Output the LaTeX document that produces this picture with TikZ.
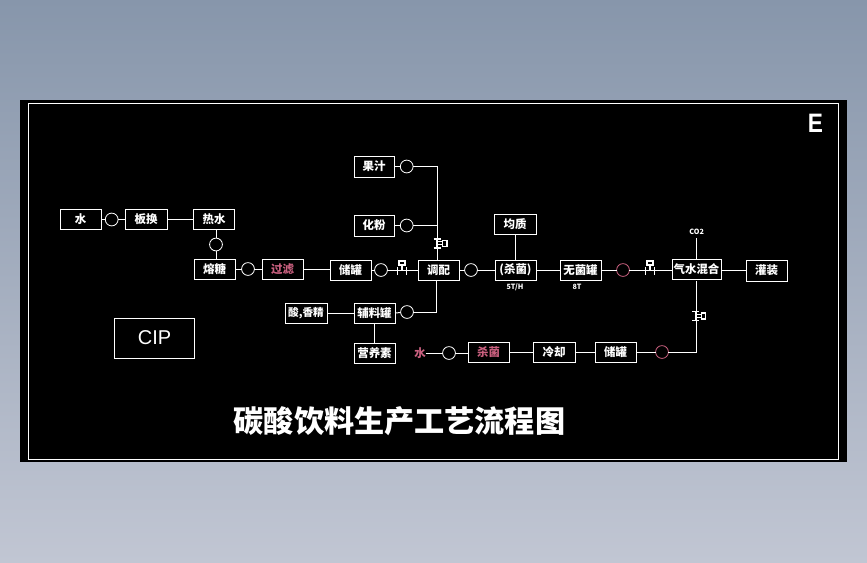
\documentclass[tikz,border=0pt]{standalone}
\usepackage{fontspec}
\setmainfont{Noto Sans CJK SC}
\newfontfamily\latinsans{Liberation Sans}
\usetikzlibrary{calc}
\definecolor{rosea}{HTML}{C9607F}
\definecolor{bgtop}{RGB}{135,150,171}
\definecolor{bgbot}{RGB}{193,198,211}
\tikzset{
  x=0.75pt,y=-0.75pt,
  lnk/.style={draw=white,line width=0.75pt},
  pbox/.style={draw=white,line width=0.75pt,fill=black,text=white,inner sep=0pt,outer sep=0pt,
    minimum width=30.75pt,minimum height=15pt,font=\fontsize{8.6pt}{10pt}\selectfont\bfseries},
  pinkbox/.style={pbox,text=rosea},
  pump/.style={circle,draw=white,line width=0.6pt,fill=black,minimum size=9.6pt,inner sep=0pt,outer sep=0pt},
  pumpr/.style={pump,draw=rosea},
  note/.style={text=white,inner sep=0pt,font=\fontsize{5.4pt}{6pt}\selectfont\bfseries},
  valveup/.pic={
    \draw[white,line width=1.2pt] (-4.5,-3.5) -- (-4.5,4) (4.5,-3.5) -- (4.5,4);
    \draw[white,line width=1pt] (0,0) -- (0,-6);
    \draw[white,line width=1pt] (-4.5,0) -- (4.5,0);
    \draw[white,line width=1pt,fill=black] (-3,-9.5) rectangle (3,-5.5);
  },
  valveside/.pic={
    \draw[white,line width=1.2pt] (-3.5,-4.5) -- (3.5,-4.5) (-3.5,4.5) -- (3.5,4.5);
    \draw[white,line width=1.5pt] (0,-4.5) -- (0,4.5);
    \draw[white,line width=0.75pt] (0,-1.5) -- (5.5,-1.5) (0,1.5) -- (5.5,1.5);
    \draw[white,line width=1pt,fill=black] (5.5,-3) rectangle (10,3);
  }
}
\begin{document}
\begin{tikzpicture}
\useasboundingbox (0,0) rectangle (867,562);
\shade[top color=bgtop,bottom color=bgbot] (0,0) rectangle (867,562);
\fill[black] (20,100) rectangle (847,462);
\draw[white,line width=0.75pt] (28.5,103.5) rectangle (838,459);

% process boxes
\node[pbox] (shui) at (80.5,219.5) {水\hspace{5pt}};
\node[pbox,minimum width=31.5pt] (banhuan) at (146,219.5) {板换};
\node[pbox] (reshui) at (214,219.5) {热水};
\node[pbox] (rongtang) at (214.5,269) {熔糖};
\node[pinkbox] (guolv) at (282.5,269) {过滤};
\node[pbox] (chuguan) at (350.5,270) {储罐};
\node[pbox,minimum width=30pt,minimum height=15.75pt] (guozhi) at (374,166.5) {果汁};
\node[pbox,minimum width=30pt,minimum height=15.75pt] (huafen) at (374,225.5) {化粉};
\node[pbox] (tiaopei) at (438.5,270) {调配};
\node[pbox] (shajunA) at (515.5,270) {(杀菌)};
\node[pbox,minimum width=31.5pt] (junzhi) at (515,224.5) {均质};
\node[pbox] (wujun) at (580.5,270) {无菌罐};
\node[pbox,minimum width=36.75pt] (qishui) at (696.5,269) {气水混合};
\node[pbox,minimum height=15.75pt] (guanzhuang) at (766.5,270.5) {灌装};
\node[pbox,minimum width=31.5pt,font=\fontsize{8pt}{10pt}\selectfont\bfseries] (suan) at (306,313) {酸,香精};
\node[pbox] (fuliao) at (374.5,313) {辅料罐};
\node[pbox] (yingyang) at (374.5,353) {营养素};
\node[pinkbox,draw=none,fill=none,minimum width=0pt,minimum height=0pt] (shuiB) at (420,353) {水};
\node[pinkbox] (shajunB) at (488.5,352) {杀菌};
\node[pbox,minimum width=31.5pt] (lengque) at (554,352) {冷却};
\node[pbox] (chuB) at (615.5,352) {储罐};

% pumps
\node[pump] (p1) at (111.7,219.5) {};
\node[pump] (p2) at (216,244.5) {};
\node[pump] (p3) at (248,269) {};
\node[pump] (p4) at (381,270) {};
\node[pump] (p5) at (406.7,166.5) {};
\node[pump] (p6) at (406.7,225.5) {};
\node[pump] (p7) at (471,270) {};
\node[pump] (p8) at (407,312) {};
\node[pump] (p9) at (449,353) {};
\node[pumpr] (p10) at (623,270) {};
\node[pumpr] (p11) at (662,352) {};

% junctions
\coordinate (j1) at (437.3,166.5);
\coordinate (j2) at (437.3,225.5);
\coordinate (j3) at (436.5,312);
\coordinate (j4) at (696,352);

% texts
\node[note] (co2) at (696.7,232) {CO2};
\node[note] (rate) at (515,287) {5T/H};
\node[note] (vol) at (577,287) {8T};

% connectors
\draw[lnk] (shui) -- (p1);
\draw[lnk] (p1) -- (banhuan);
\draw[lnk] (banhuan) -- (reshui);
\draw[lnk] (p2.north) -- (p2.north |- reshui.south);
\draw[lnk] (p2.south) -- (p2.south |- rongtang.north);
\draw[lnk] (rongtang) -- (p3);
\draw[lnk] (p3) -- (guolv);
\draw[lnk] (guolv.east) -- (guolv.east -| chuguan.west);
\draw[lnk] (chuguan) -- (p4);
\draw[lnk] (p4) -- (tiaopei);
\draw[lnk] (guozhi) -- (p5);
\draw[lnk] (huafen) -- (p6);
\draw[lnk] (p5) -- (j1) -- (j1 |- tiaopei.north);
\draw[lnk] (p6) -- (j2);
\draw[lnk] (tiaopei) -- (p7);
\draw[lnk] (p7) -- (shajunA);
\draw[lnk] (shajunA) -- (wujun);
\draw[lnk] (junzhi.south) -- (shajunA.north -| junzhi.south);
\draw[lnk] (wujun) -- (p10);
\draw[lnk] (p10) -- (qishui.west |- p10);
\draw[lnk] (qishui.east |- guanzhuang) -- (guanzhuang);
\draw[lnk] (qishui.north) -- (qishui.north |- 0,238);
\draw[lnk] (suan.east) -- (fuliao.west);
\draw[lnk] (fuliao.east) -- (p8);
\draw[lnk] (p8) -- (j3) -- (j3 |- tiaopei.south);
\draw[lnk] (fuliao) -- (yingyang);
\draw[lnk] (shuiB) -- (p9);
\draw[lnk] (p9) -- (p9 -| shajunB.west);
\draw[lnk] (shajunB) -- (lengque);
\draw[lnk] (lengque) -- (chuB);
\draw[lnk] (chuB) -- (p11);
\draw[lnk,shorten >=1.5pt] (p11) -- (j4) -- (j4 |- qishui.south);

% valves
\pic at (402,270.5) {valveup};
\pic at (650,270.5) {valveup};
\pic at (437,243.3) {valveside};
\pic at (695.8,316) {valveside};

% other labels
\node[draw=white,line width=0.75pt,minimum width=60pt,minimum height=30pt,inner sep=0pt,text=white,font=\latinsans\fontsize{15pt}{16pt}\selectfont] (cip) at (154.5,338) {\raisebox{-1.5pt}{CIP}};
\node[text=white,inner sep=0pt,font=\latinsans\bfseries\fontsize{20pt}{21pt}\selectfont] (emark) at (815.5,123) {\scalebox{0.85}[1]{E}};
\node[text=white,inner sep=0pt,font=\fontsize{22.6pt}{24pt}\selectfont\bfseries] (title) at (399.5,421) {碳酸饮料生产工艺流程图};
\end{tikzpicture}
\end{document}
